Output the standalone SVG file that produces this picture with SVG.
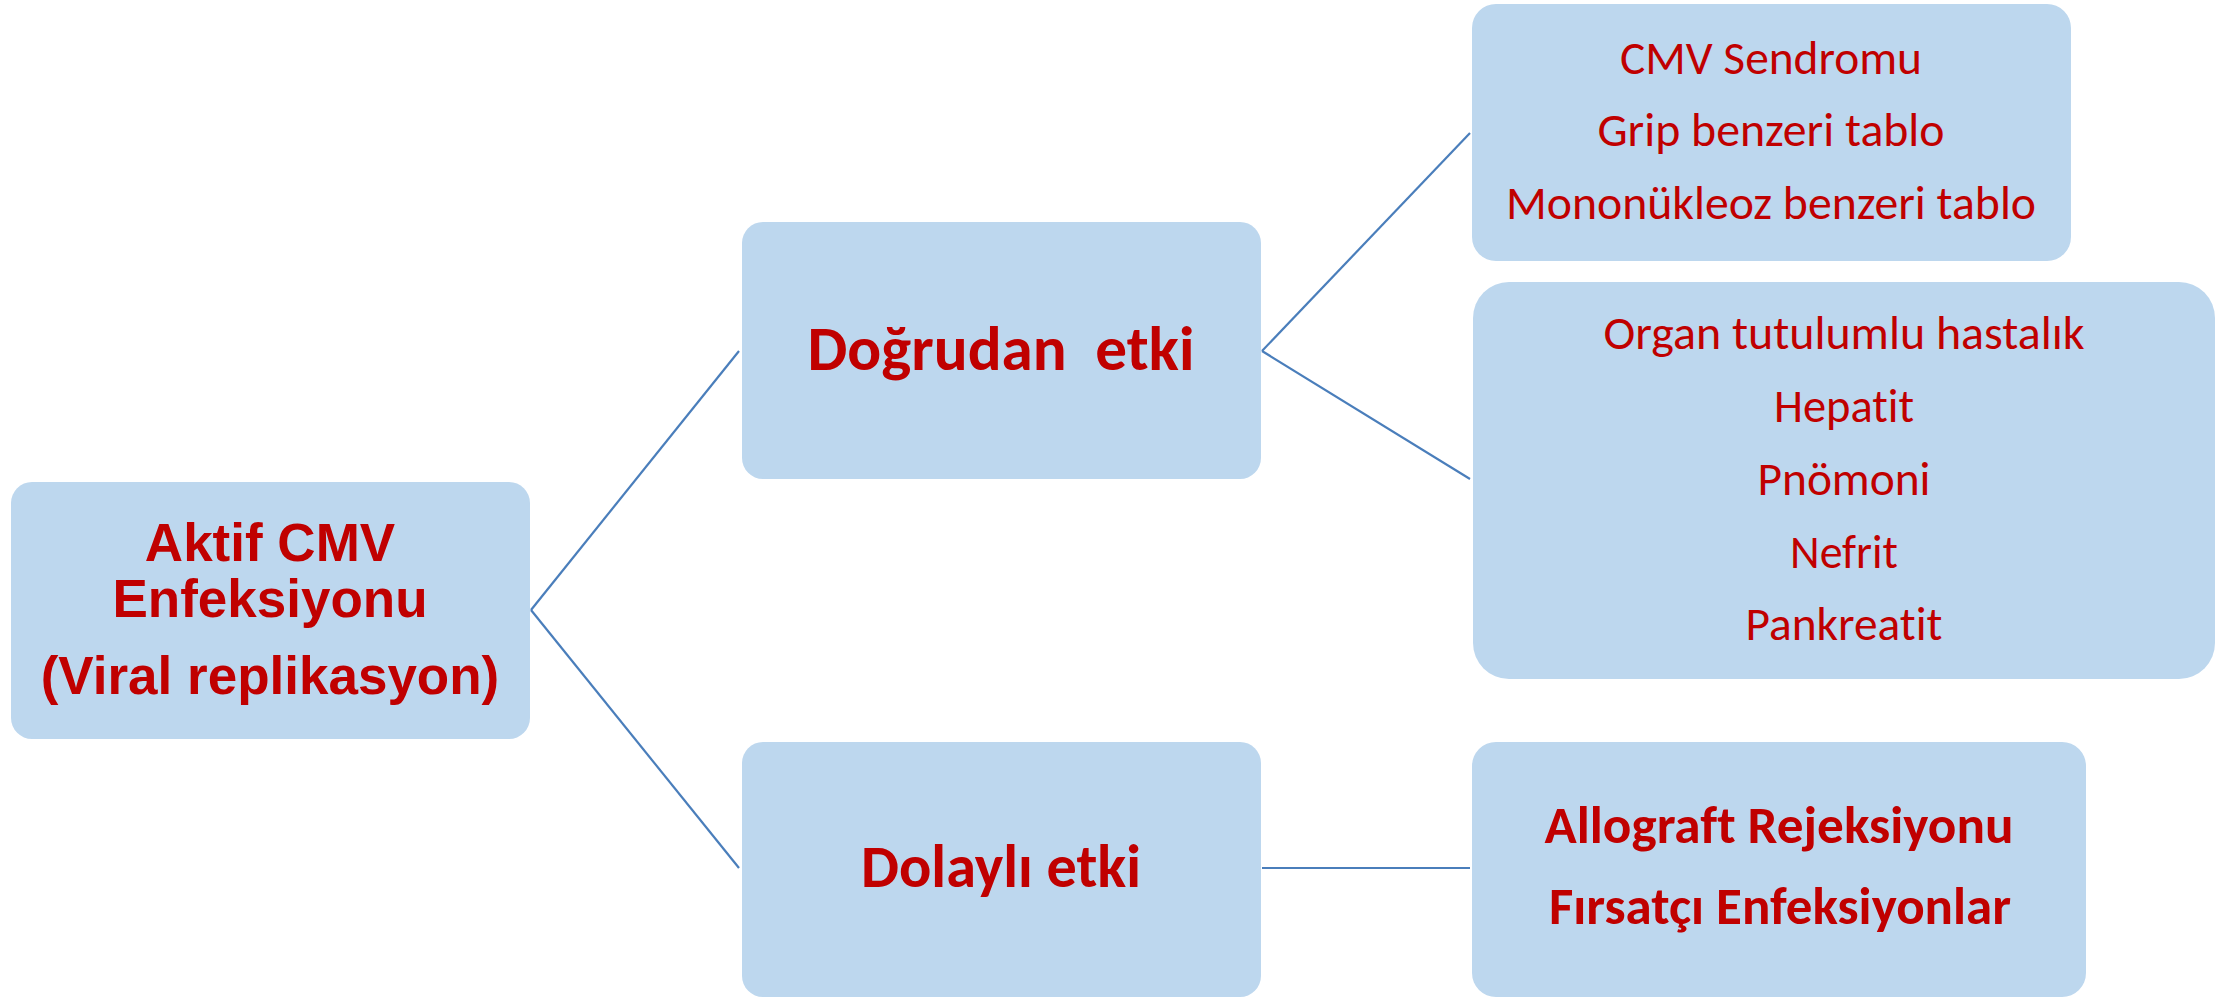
<svg xmlns="http://www.w3.org/2000/svg" width="2236" height="998" viewBox="0 0 2236 998">
<style>
.box{fill:#BDD7EE;}
.t{fill:#C00000;text-anchor:middle;font-variant-ligatures:none;font-feature-settings:"liga" 0,"clig" 0;}
.arial{font-family:"Liberation Sans",Arial,sans-serif;font-weight:bold;font-size:53px;}
.cal{font-family:Carlito,Lato,"Open Sans",sans-serif;font-size:48px;}
.calb{font-family:Carlito,Lato,"Open Sans",sans-serif;font-weight:bold;}
.conn line{stroke:#4A7EBB;stroke-width:2.2;fill:none;}
</style>
<rect width="2236" height="998" fill="#ffffff"/>
<g id="connectors" class="conn">
<line x1="531" y1="610" x2="739" y2="351"/>
<line x1="531" y1="610" x2="739" y2="868"/>
<line x1="1262" y1="351" x2="1470" y2="133"/>
<line x1="1262" y1="351" x2="1470" y2="479"/>
<line x1="1262" y1="868" x2="1470" y2="868"/>
</g>
<g id="aktif">
<rect class="box" x="11" y="482" width="519" height="257" rx="21"/>
<text class="t arial" x="270" y="561">Aktif CMV</text>
<text class="t arial" x="270" y="617">Enfeksiyonu</text>
<text class="t arial" x="270" y="694">(Viral replikasyon)</text>
</g>
<g id="dogrudan">
<rect class="box" x="742" y="222" width="519" height="257" rx="21"/>
<text class="t calb" x="1001" y="370" font-size="63" textLength="387" lengthAdjust="spacingAndGlyphs" xml:space="preserve">Doğrudan  etki</text>
</g>
<g id="dolayli">
<rect class="box" x="742" y="742" width="519" height="255" rx="21"/>
<text class="t calb" x="1001" y="887" font-size="60" textLength="280" lengthAdjust="spacingAndGlyphs">Dolaylı etki</text>
</g>
<g id="sendrom">
<rect class="box" x="1472" y="4" width="599" height="257" rx="24"/>
<text class="t cal" x="1771" y="74" textLength="302" lengthAdjust="spacingAndGlyphs">CMV Sendromu</text>
<text class="t cal" x="1771" y="146" textLength="347" lengthAdjust="spacingAndGlyphs">Grip benzeri tablo</text>
<text class="t cal" x="1771" y="219" textLength="530" lengthAdjust="spacingAndGlyphs">Mononükleoz benzeri tablo</text>
</g>
<g id="organ">
<rect class="box" x="1473" y="282" width="742" height="397" rx="36"/>
<text class="t cal" x="1844" y="349" textLength="481" lengthAdjust="spacingAndGlyphs">Organ tutulumlu hastalık</text>
<text class="t cal" x="1844" y="422" textLength="140" lengthAdjust="spacingAndGlyphs">Hepatit</text>
<text class="t cal" x="1844" y="495" textLength="173" lengthAdjust="spacingAndGlyphs">Pnömoni</text>
<text class="t cal" x="1844" y="568" textLength="108" lengthAdjust="spacingAndGlyphs">Nefrit</text>
<text class="t cal" x="1844" y="640" textLength="197" lengthAdjust="spacingAndGlyphs">Pankreatit</text>
</g>
<g id="dolayli-sonuc">
<rect class="box" x="1472" y="742" width="614" height="255" rx="24"/>
<text class="t calb" x="1779" y="843" font-size="52" textLength="469" lengthAdjust="spacingAndGlyphs">Allograft Rejeksiyonu</text>
<text class="t calb" x="1780" y="924" font-size="52" textLength="462" lengthAdjust="spacingAndGlyphs">Fırsatçı Enfeksiyonlar</text>
</g>
</svg>
